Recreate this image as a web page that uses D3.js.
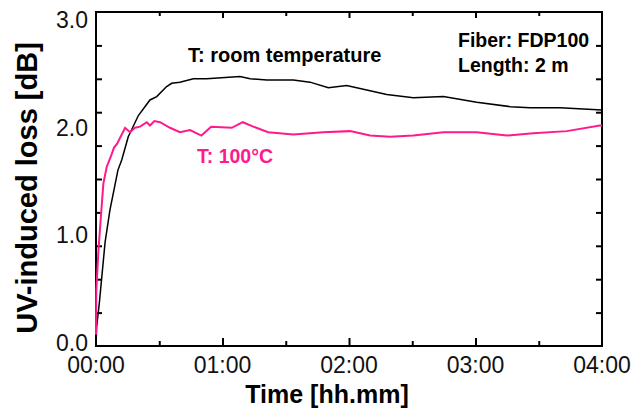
<!DOCTYPE html>
<html>
<head>
<meta charset="utf-8">
<script src="https://cdn.jsdelivr.net/npm/d3@7"></script>
<style>
  body { margin: 0; background: #fff; }
  text { font-family: Arial, "Liberation Sans", sans-serif; }
</style>
</head>
<body>
<div id="chart"></div>
<script>
// time in minutes, loss in dB
const roomTime = [0, 0.3, 1.6, 4.3, 6.6, 10.4, 12.2, 15.3, 20.1, 25.6, 28.8, 33.5, 35.9, 39.8, 46.2, 52.5, 68.3, 73.1, 81, 93.6, 101.5, 110.2, 118.9, 128.4, 137.9, 150.5, 164.8, 180.6, 196.4, 205.9, 220.1, 240];
const roomLoss = [0, 0.17, 0.39, 0.93, 1.22, 1.58, 1.67, 1.88, 2.07, 2.21, 2.24, 2.33, 2.36, 2.37, 2.40, 2.40, 2.42, 2.40, 2.39, 2.39, 2.37, 2.32, 2.34, 2.30, 2.26, 2.23, 2.24, 2.19, 2.15, 2.14, 2.14, 2.12];

const hotTime = [0, 0.15, 1.1, 2.2, 3.5, 5.1, 7.0, 8.5, 10.1, 12.2, 13.8, 16.1, 18.5, 20.9, 24.1, 25.6, 27.7, 30.4, 35.1, 39.8, 44.6, 50, 54.6, 64.4, 69.6, 74.6, 81.7, 93.6, 107.8, 120.5, 130, 139.5, 150.5, 164.8, 180.6, 194.8, 207.4, 223.3, 239, 240];
const hotLoss = [0.10, 0.50, 0.84, 1.13, 1.46, 1.61, 1.70, 1.78, 1.82, 1.90, 1.96, 1.92, 1.96, 1.97, 2.01, 1.98, 2.02, 2.01, 1.96, 1.92, 1.94, 1.89, 1.97, 1.96, 2.01, 1.97, 1.92, 1.90, 1.92, 1.93, 1.89, 1.88, 1.89, 1.92, 1.92, 1.89, 1.91, 1.93, 1.98, 1.98];

const xMajorTicks = [0, 60, 120, 180, 240];
const xMinorTicks = [30, 90, 150, 210];
const xTickLabels = ["00:00", "01:00", "02:00", "03:00", "04:00"];
const yMarkTicks = [0.3, 0.6, 0.9, 1.2, 1.5, 1.8, 2.1, 2.4, 2.7];
const yLabelValues = [0, 1, 2, 3];
const yTickLabels = ["0.0", "1.0", "2.0", "3.0"];

const width = 642, height = 410;
const m = { left: 96, right: 602, top: 12, bottom: 346 };
const pink = "#ff1a8c";

const svg = d3.select("#chart").append("svg").attr("width", width).attr("height", height);

const x = d3.scaleLinear().domain([0, 240]).range([m.left, m.right]);
const y = d3.scaleLinear().domain([0, 3]).range([m.bottom, m.top]);
// tick labels sit a little off the tick marks in the original
const yLab = d3.scaleLinear().domain([0, 3]).range([343, 20]);

// inward tick marks drawn with d3 axes, no labels
const addAxis = (axis, tx, ty) => {
  const a = svg.append("g").attr("transform", `translate(${tx},${ty})`).call(axis);
  a.select(".domain").remove();
  a.selectAll("line").attr("stroke", "#000").attr("stroke-width", 2);
};
addAxis(d3.axisBottom(x).tickValues(xMajorTicks.slice(1, 4)).tickSize(-8).tickFormat(""), 0, m.bottom);
addAxis(d3.axisBottom(x).tickValues(xMinorTicks).tickSize(-5).tickFormat(""), 0, m.bottom);
addAxis(d3.axisTop(x).tickValues(xMajorTicks.slice(1, 4)).tickSize(-6).tickFormat(""), 0, m.top);
addAxis(d3.axisTop(x).tickValues(xMinorTicks).tickSize(-4).tickFormat(""), 0, m.top);
addAxis(d3.axisLeft(y).tickValues(yMarkTicks).tickSize(-6).tickFormat(""), m.left, 0);
addAxis(d3.axisRight(y).tickValues(yMarkTicks).tickSize(-6).tickFormat(""), m.right, 0);

// frame
svg.append("rect").attr("x", m.left).attr("y", m.top).attr("width", m.right - m.left).attr("height", m.bottom - m.top)
  .attr("fill", "none").attr("stroke", "#000").attr("stroke-width", 2);

// tick labels
svg.selectAll(".xlab").data(xMajorTicks).enter().append("text")
  .attr("x", d => x(d)).attr("y", 373).attr("text-anchor", "middle")
  .attr("font-size", 23).attr("fill", "#111").text((d, i) => xTickLabels[i]);
svg.selectAll(".ylab").data(yLabelValues).enter().append("text")
  .attr("x", 88).attr("y", d => yLab(d) + 8).attr("text-anchor", "end")
  .attr("font-size", 23).attr("fill", "#111").text((d, i) => yTickLabels[i]);

// axis titles
svg.append("text").attr("x", 327).attr("y", 403).attr("text-anchor", "middle")
  .attr("font-size", 25).attr("font-weight", "bold").text("Time [hh.mm]");
svg.append("text").attr("transform", "translate(37,188) rotate(-90)").attr("text-anchor", "middle")
  .attr("font-size", 29).attr("font-weight", "bold").text("UV-induced loss [dB]");

// lines
const line = d3.line().x(d => x(d[0])).y(d => y(d[1]));
svg.append("path").datum(roomTime.map((t, i) => [t, roomLoss[i]]))
  .attr("d", line).attr("fill", "none").attr("stroke", "#000").attr("stroke-width", 1.5);
svg.append("path").datum(hotTime.map((t, i) => [t, hotLoss[i]]))
  .attr("d", line).attr("fill", "none").attr("stroke", pink).attr("stroke-width", 2);

// annotations
svg.append("text").attr("x", 188).attr("y", 62).attr("font-size", 20).attr("font-weight", "bold")
  .text("T: room temperature");
svg.append("text").attr("x", 197).attr("y", 163).attr("font-size", 19.5).attr("font-weight", "bold")
  .attr("fill", pink).text("T: 100°C");
svg.append("text").attr("x", 458).attr("y", 47).attr("font-size", 19.5).attr("font-weight", "bold")
  .text("Fiber: FDP100");
svg.append("text").attr("x", 458).attr("y", 72).attr("font-size", 19.5).attr("font-weight", "bold")
  .text("Length: 2 m");
</script>
</body>
</html>
